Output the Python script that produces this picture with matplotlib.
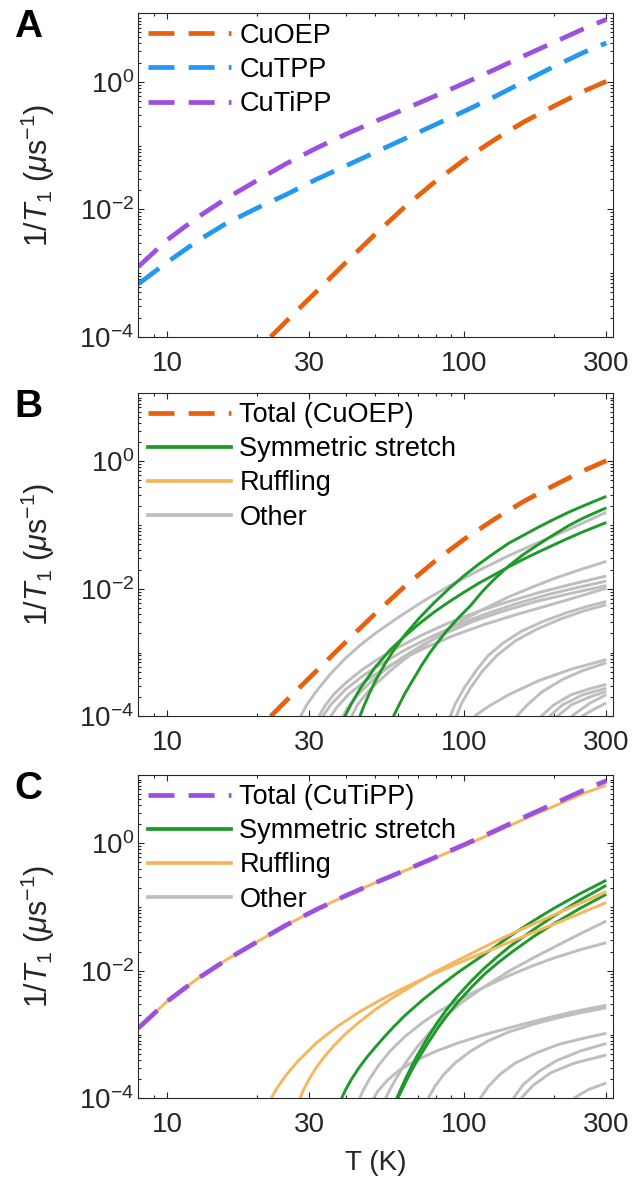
import numpy as np
import matplotlib
matplotlib.use("Agg")
import matplotlib.pyplot as plt
from matplotlib.lines import Line2D
from matplotlib.ticker import FixedLocator, FixedFormatter, NullFormatter

plt.rcParams['font.family'] = ['Liberation Sans', 'DejaVu Sans']
plt.rcParams['mathtext.fontset'] = 'custom'
plt.rcParams['mathtext.rm'] = 'Liberation Sans'
plt.rcParams['mathtext.it'] = 'Liberation Sans:italic'
plt.rcParams['mathtext.bf'] = 'Liberation Sans:bold'

# ---------------- data ----------------
# Panel A : total rates
T_cutipp = [8.0, 10.0, 12.6, 15.8, 20.0, 25.1, 31.6, 39.8, 50.1, 63.1, 79.4, 100, 126, 158, 200, 251, 300]
rate_cutipp = [1.26e-3, 3.31e-3, 7.41e-3, 1.48e-2, 2.82e-2, 5.19e-2, 9.02e-2, 0.150, 0.240, 0.376,
               0.596, 0.955, 1.55, 2.54, 4.17, 6.76, 9.55]
T_cutpp = [8.0, 10.0, 12.6, 15.8, 20.0, 25.1, 31.6, 39.8, 50.1, 63.1, 79.4, 100, 126, 158, 200, 251, 300]
rate_cutpp = [6.76e-4, 1.48e-3, 3.16e-3, 6.03e-3, 1.04e-2, 1.70e-2, 2.92e-2, 4.79e-2, 7.85e-2, 0.129,
              0.211, 0.347, 0.582, 1.0, 1.74, 2.88, 4.07]
T_cuoep = [22.3, 25.1, 31.6, 39.8, 50.1, 63.1, 79.4, 100, 126, 158, 200, 251, 300]
rate_cuoep = [1.0e-4, 1.74e-4, 5.01e-4, 1.45e-3, 4.07e-3, 1.10e-2, 2.69e-2, 6.03e-2, 0.123, 0.234,
              0.417, 0.708, 1.02]

# Panel B : CuOEP mode contributions
B_sym_T = [
    [39.6, 41.7, 44.7, 50.1, 56.2, 63.1, 70.8, 79.4, 89.1, 100, 112, 126, 141, 158, 178, 200, 224, 251, 300],
    [44.5, 45.7, 47.9, 50.1, 53.7, 57.5, 63.1, 70.8, 79.4, 89.1, 100, 112, 126, 141, 158, 178, 200, 224, 251, 300],
    [57.7, 60.3, 63.1, 67.3, 71.8, 76.6, 81.3, 87.1, 95.3, 105, 115, 126, 141, 158, 178, 200, 224, 251, 300],
]
B_sym_rate = [
    [1.0e-4, 1.585e-4, 2.754e-4, 5.888e-4, 1.096e-3, 1.820e-3, 2.884e-3, 4.365e-3, 6.310e-3, 8.913e-3,
     1.230e-2, 1.660e-2, 2.213e-2, 2.917e-2, 3.802e-2, 4.898e-2, 6.237e-2, 7.852e-2, 0.1096],
    [1.0e-4, 1.380e-4, 2.291e-4, 3.548e-4, 6.310e-4, 1.047e-3, 1.905e-3, 3.548e-3, 6.166e-3, 1.023e-2,
     1.622e-2, 2.455e-2, 3.631e-2, 5.188e-2, 6.918e-2, 9.333e-2, 0.1230, 0.1585, 0.1995, 0.2818],
    [1.0e-4, 1.514e-4, 2.291e-4, 3.802e-4, 6.310e-4, 1.0e-3, 1.445e-3, 2.188e-3, 3.467e-3, 5.495e-3,
     9.120e-3, 1.413e-2, 2.291e-2, 3.467e-2, 5.012e-2, 7.079e-2, 9.772e-2, 0.1288, 0.1862],
]
B_other_T = [
    [28.1, 29.5, 31.6, 35.5, 39.8, 44.7, 50.1, 60.3, 72.4, 87.1, 112, 141, 178, 224, 300],
    [41.7, 43.7, 46.8, 50.1, 56.2, 63.1, 72.4, 83.2, 98.9, 117, 142, 170, 200, 245, 300],
    [32.4, 33.9, 36.3, 39.8, 44.7, 50.1, 60.3, 72.4, 89.1, 112, 141, 178, 224, 300],
    [33.4, 35.5, 39.8, 45.7, 53.7, 63.1, 75.9, 93.3, 117, 148, 191, 240, 300],
    [39.0, 40.7, 43.7, 47.9, 53.7, 61.7, 72.4, 87.1, 107, 135, 174, 224, 300],
    [35.5, 37.2, 40.7, 45.7, 52.5, 61.7, 74.1, 91.2, 115, 148, 195, 251, 300],
    [89.5, 93.3, 100, 110, 120, 135, 155, 182, 219, 257, 300],
    [94.0, 97.7, 105, 115, 129, 148, 174, 209, 251, 300],
    [108, 120, 141, 178, 229, 300],
    [150, 162, 182, 214, 251, 300],
    [181, 200, 229, 263, 300],
    [193, 214, 251, 300],
    [205, 229, 263, 300],
    [229, 263, 300],
    [248, 275, 300],
]
B_other_rate = [
    [1.0e-4, 1.514e-4, 2.399e-4, 4.677e-4, 8.128e-4, 1.318e-3, 1.995e-3, 3.631e-3, 6.310e-3, 1.047e-2,
     1.950e-2, 3.311e-2, 5.370e-2, 8.511e-2, 0.1585],
    [1.0e-4, 1.514e-4, 2.291e-4, 3.162e-4, 5.129e-4, 7.943e-4, 1.259e-3, 1.950e-3, 3.236e-3, 4.898e-3,
     7.586e-3, 1.072e-2, 1.445e-2, 1.995e-2, 2.692e-2],
    [1.0e-4, 1.445e-4, 2.188e-4, 3.311e-4, 5.129e-4, 7.413e-4, 1.230e-3, 1.905e-3, 2.951e-3, 4.467e-3,
     6.310e-3, 8.710e-3, 1.148e-2, 1.585e-2],
    [1.0e-4, 1.514e-4, 2.630e-4, 4.365e-4, 7.079e-4, 1.096e-3, 1.698e-3, 2.630e-3, 3.981e-3, 5.754e-3,
     8.128e-3, 1.047e-2, 1.318e-2],
    [1.0e-4, 1.413e-4, 2.138e-4, 3.311e-4, 5.248e-4, 8.318e-4, 1.318e-3, 2.042e-3, 3.090e-3, 4.467e-3,
     6.310e-3, 8.318e-3, 1.122e-2],
    [1.0e-4, 1.380e-4, 2.188e-4, 3.388e-4, 5.248e-4, 7.943e-4, 1.202e-3, 1.820e-3, 2.692e-3, 3.890e-3,
     5.623e-3, 7.943e-3, 1.023e-2],
    [1.0e-4, 1.585e-4, 2.818e-4, 5.370e-4, 8.913e-4, 1.413e-3, 2.138e-3, 3.020e-3, 4.169e-3, 5.248e-3, 6.310e-3],
    [1.0e-4, 1.585e-4, 2.818e-4, 5.129e-4, 9.120e-4, 1.514e-3, 2.291e-3, 3.311e-3, 4.467e-3, 5.623e-3],
    [1.0e-4, 1.413e-4, 2.188e-4, 3.631e-4, 5.495e-4, 7.762e-4],
    [1.0e-4, 1.479e-4, 2.399e-4, 3.802e-4, 5.248e-4, 6.918e-4],
    [1.0e-4, 1.514e-4, 2.188e-4, 2.692e-4, 3.162e-4],
    [1.0e-4, 1.514e-4, 2.188e-4, 2.754e-4],
    [1.0e-4, 1.514e-4, 1.995e-4, 2.455e-4],
    [1.0e-4, 1.585e-4, 2.188e-4],
    [1.0e-4, 1.318e-4, 1.622e-4],
]

# Panel C : CuTiPP mode contributions
C_ruff_T = [
    [8.0, 10.0, 12.6, 15.8, 20.0, 25.1, 31.6, 39.8, 50.1, 63.1, 79.4, 100, 126, 158, 200, 251, 300],
    [22.4, 23.4, 25.1, 27.5, 31.8, 37.2, 44.5, 52.5, 60.7, 70.8, 80.5, 95.5, 110, 126, 142, 170, 200, 245, 300],
    [28.0, 28.8, 30.2, 31.6, 33.9, 36.3, 39.8, 44.7, 50.1, 57.5, 67.6, 79.4, 95.5, 115, 141, 174, 214, 251, 300],
]
C_ruff_rate = [
    [1.26e-3, 3.31e-3, 7.41e-3, 1.48e-2, 2.82e-2, 5.19e-2, 9.02e-2, 0.150, 0.240, 0.372,
     0.585, 0.92, 1.47, 2.37, 3.80, 6.03, 8.13],
    [1.0e-4, 1.445e-4, 2.291e-4, 3.802e-4, 7.413e-4, 1.318e-3, 2.291e-3, 3.548e-3, 5.012e-3, 7.079e-3,
     9.333e-3, 1.318e-2, 1.738e-2, 2.239e-2, 2.818e-2, 3.981e-2, 5.370e-2, 7.943e-2, 0.1175],
    [1.0e-4, 1.380e-4, 2.089e-4, 2.951e-4, 4.571e-4, 6.607e-4, 1.023e-3, 1.622e-3, 2.455e-3, 3.802e-3,
     6.026e-3, 9.550e-3, 1.479e-2, 2.291e-2, 3.631e-2, 5.623e-2, 8.710e-2, 0.1202, 0.1738],
]
C_sym_T = [
    [38.6, 39.8, 41.7, 44.2, 46.9, 50.1, 53.7, 57.5, 63.1, 72.6, 83.2, 95.5, 116, 142, 170, 200, 245, 300],
    [59.2, 61.0, 63.1, 66.1, 69.0, 74.1, 80.5, 87.1, 94.2, 105, 116, 129, 142, 170, 200, 245, 300],
    [59.7, 61.7, 63.8, 66.8, 70.0, 75.0, 81.3, 88.1, 95.5, 106, 117, 130, 145, 170, 200, 245, 300],
]
C_sym_rate = [
    [1.0e-4, 1.349e-4, 1.995e-4, 3.020e-4, 4.365e-4, 6.310e-4, 9.120e-4, 1.288e-3, 1.995e-3, 3.548e-3,
     5.888e-3, 9.550e-3, 1.778e-2, 3.467e-2, 6.026e-2, 9.550e-2, 0.1622, 0.2630],
    [1.0e-4, 1.380e-4, 1.950e-4, 3.020e-4, 4.467e-4, 7.943e-4, 1.479e-3, 2.455e-3, 3.890e-3, 6.761e-3,
     1.072e-2, 1.660e-2, 2.399e-2, 4.365e-2, 7.244e-2, 0.1288, 0.2188],
    [1.0e-4, 1.380e-4, 1.905e-4, 2.884e-4, 4.169e-4, 7.079e-4, 1.259e-3, 2.089e-3, 3.311e-3, 5.623e-3,
     8.913e-3, 1.349e-2, 1.995e-2, 3.388e-2, 5.495e-2, 9.550e-2, 0.1585],
]
C_other_T = [
    [54.3, 56.2, 58.9, 63.1, 69.2, 75.9, 85.1, 97.7, 115, 142, 170, 200, 245, 300],
    [44.4, 45.7, 47.9, 51.3, 56.2, 63.1, 72.4, 82.6, 95.5, 115, 142, 170, 200, 245, 300],
    [49.4, 51.3, 55.0, 60.3, 67.6, 79.4, 95.5, 117, 148, 186, 234, 300],
    [75.5, 79.4, 85.1, 93.3, 105, 120, 141, 170, 209, 251, 300],
    [113, 120, 132, 148, 174, 209, 251, 300],
    [146, 158, 178, 204, 245, 300],
    [155, 170, 195, 234, 300],
    [233, 262, 300],
]
C_other_rate = [
    [1.0e-4, 1.380e-4, 2.042e-4, 3.467e-4, 6.310e-4, 1.047e-3, 1.820e-3, 3.162e-3, 5.370e-3, 1.0e-2,
     1.585e-2, 2.344e-2, 3.802e-2, 6.026e-2],
    [1.0e-4, 1.349e-4, 1.995e-4, 3.236e-4, 5.495e-4, 9.333e-4, 1.549e-3, 2.344e-3, 3.467e-3, 5.370e-3,
     8.511e-3, 1.202e-2, 1.585e-2, 2.138e-2, 2.754e-2],
    [1.0e-4, 1.318e-4, 1.905e-4, 2.754e-4, 3.802e-4, 5.370e-4, 7.413e-4, 1.0e-3, 1.349e-3, 1.778e-3,
     2.291e-3, 2.884e-3],
    [1.0e-4, 1.514e-4, 2.344e-4, 3.631e-4, 5.495e-4, 7.943e-4, 1.096e-3, 1.445e-3, 1.862e-3, 2.239e-3, 2.630e-3],
    [1.0e-4, 1.514e-4, 2.399e-4, 3.548e-4, 5.129e-4, 7.079e-4, 8.710e-4, 1.047e-3],
    [1.0e-4, 1.660e-4, 2.630e-4, 3.890e-4, 5.495e-4, 7.244e-4],
    [1.0e-4, 1.585e-4, 2.512e-4, 3.548e-4, 4.786e-4],
    [1.0e-4, 1.380e-4, 1.738e-4],
]

x_ticks = [10, 30, 100, 300]
x_ticklabels = ['10', '30', '100', '300']
y_ticks = [1e-4, 1e-2, 1e0]
y_ticklabels = [r'$10^{-4}$', r'$10^{-2}$', r'$10^{0}$']
panel_letters = ['A', 'B', 'C']
legend_A = ['CuOEP', 'CuTPP', 'CuTiPP']
legend_B = ['Total (CuOEP)', 'Symmetric stretch', 'Ruffling', 'Other']
legend_C = ['Total (CuTiPP)', 'Symmetric stretch', 'Ruffling', 'Other']

# ---------------- style ----------------
c_orange = '#E8610C'
c_blue = '#2398F0'
c_purple = '#9D4FE0'
c_green = '#1F9A2A'
c_ruff = '#F4B75E'
c_gray = '#BEBEBE'
c_axis = '#262626'
dash = (0, (5.5, 3.0))
lw_dash = 3.4
lw_solid = 2.1

W, H = 633, 1186
fig = plt.figure(figsize=(W / 100, H / 100), dpi=100)
ax_left = 138.3 / W
ax_w = 474.7 / W
tops = [13.3, 392.7, 774.7]
hgt = 323.6
axes = []
for t in tops:
    axes.append(fig.add_axes([ax_left, 1 - (t + hgt) / H, ax_w, hgt / H]))

minor_x = [8, 9, 20, 40, 50, 60, 70, 80, 90, 200]
minor_y = []
for e in range(-4, 2):
    for k in range(1, 10):
        v = k * 10.0 ** e
        if v < 12 and not (k == 1 and e in (-4, -2, 0)):
            minor_y.append(v)

for i, ax in enumerate(axes):
    ax.set_xscale('log')
    ax.set_yscale('log')
    ax.set_xlim(8, 316)
    ax.set_ylim(1e-4, 11.9)
    ax.xaxis.set_major_locator(FixedLocator(x_ticks))
    ax.xaxis.set_major_formatter(FixedFormatter(x_ticklabels))
    ax.xaxis.set_minor_locator(FixedLocator(minor_x))
    ax.xaxis.set_minor_formatter(NullFormatter())
    ax.yaxis.set_major_locator(FixedLocator(y_ticks))
    ax.yaxis.set_major_formatter(FixedFormatter(y_ticklabels))
    ax.yaxis.set_minor_locator(FixedLocator(minor_y))
    ax.yaxis.set_minor_formatter(NullFormatter())
    ax.tick_params(which='both', direction='in', top=True, right=True,
                   color=c_axis, labelcolor=c_axis, width=0.8, labelsize=20)
    ax.tick_params(which='major', length=4.5)
    ax.tick_params(which='minor', length=2.2)
    ax.tick_params(axis='x', which='major', pad=10)
    ax.tick_params(axis='y', which='major', pad=3)
    for s in ax.spines.values():
        s.set_color(c_axis)
        s.set_linewidth(0.8)
    ax.set_ylabel(r'$1/\mathit{T}_1$ ($\mu$s$^{-1}$)', fontsize=22, color=c_axis)
    ax.yaxis.set_label_coords(-0.172, 0.5)
    fig.text(14 / W, 1 - (tops[i] - 4) / H, panel_letters[i], fontsize=28,
             fontweight='bold', va='top', ha='left', color='black')

# Panel A
ax = axes[0]
ax.plot(T_cuoep, rate_cuoep, color=c_orange, lw=lw_dash, ls=dash, label=legend_A[0])
ax.plot(T_cutpp, rate_cutpp, color=c_blue, lw=lw_dash, ls=dash, label=legend_A[1])
ax.plot(T_cutipp, rate_cutipp, color=c_purple, lw=lw_dash, ls=dash, label=legend_A[2])

# Panel B
ax = axes[1]
for tt, rr in zip(B_other_T, B_other_rate):
    ax.plot(tt, rr, color=c_gray, lw=lw_solid, solid_capstyle='butt')
for tt, rr in zip(B_sym_T, B_sym_rate):
    ax.plot(tt, rr, color=c_green, lw=lw_solid, solid_capstyle='butt')
ax.plot(T_cuoep, rate_cuoep, color=c_orange, lw=lw_dash, ls=dash)

# Panel C
ax = axes[2]
for tt, rr in zip(C_other_T, C_other_rate):
    ax.plot(tt, rr, color=c_gray, lw=lw_solid, solid_capstyle='butt')
for tt, rr in zip(C_sym_T, C_sym_rate):
    ax.plot(tt, rr, color=c_green, lw=lw_solid, solid_capstyle='butt')
for tt, rr in zip(C_ruff_T, C_ruff_rate):
    ax.plot(tt, rr, color=c_ruff, lw=lw_solid, solid_capstyle='butt')
ax.plot(T_cutipp, rate_cutipp, color=c_purple, lw=lw_dash, ls=dash)
ax.set_xlabel('T (K)', fontsize=20, color=c_axis)
ax.xaxis.set_label_coords(0.5, -0.16)

leg_kw = dict(loc='upper left', frameon=False, fontsize=19.5, handlelength=3.08,
              handletextpad=0.3, labelspacing=0.3, borderaxespad=0.1, borderpad=0.25)
axes[0].legend(**leg_kw)
hB = [Line2D([], [], color=c_orange, lw=lw_dash, ls=dash),
      Line2D([], [], color=c_green, lw=lw_solid + 0.6),
      Line2D([], [], color=c_ruff, lw=lw_solid + 0.6),
      Line2D([], [], color=c_gray, lw=lw_solid + 0.6)]
axes[1].legend(hB, legend_B, **leg_kw)
hC = [Line2D([], [], color=c_purple, lw=lw_dash, ls=dash),
      Line2D([], [], color=c_green, lw=lw_solid + 0.6),
      Line2D([], [], color=c_ruff, lw=lw_solid + 0.6),
      Line2D([], [], color=c_gray, lw=lw_solid + 0.6)]
axes[2].legend(hC, legend_C, **leg_kw)

fig.savefig('out.png', dpi=100)
